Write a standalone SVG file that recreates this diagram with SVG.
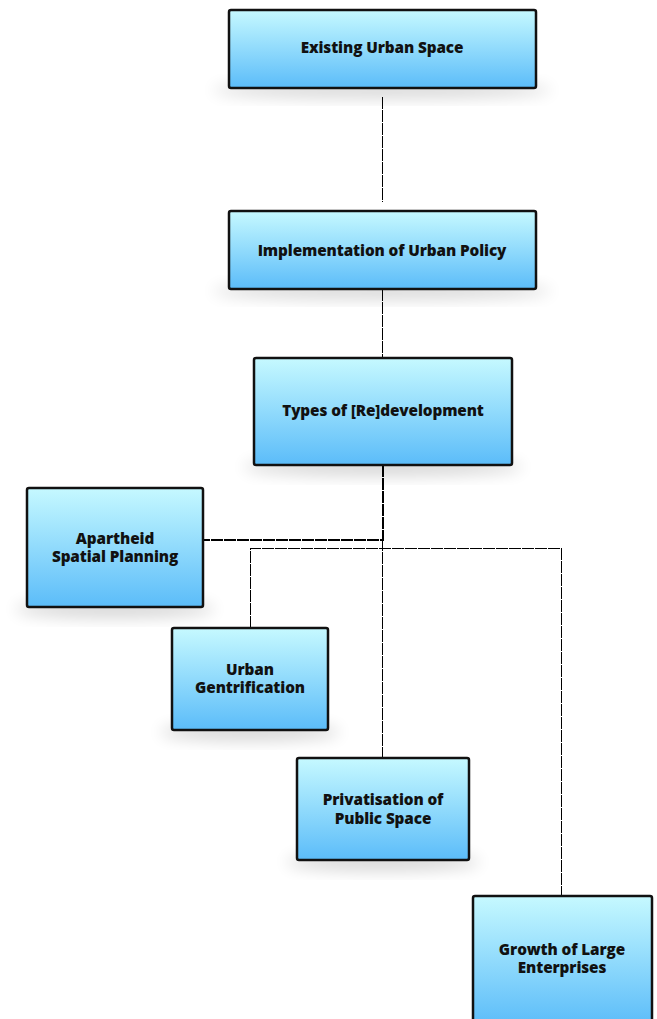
<svg xmlns="http://www.w3.org/2000/svg" width="657" height="1019" viewBox="0 0 657 1019">
<style>
.box{fill:url(#g);stroke:#111;stroke-width:2.5;stroke-linejoin:round}
.t{font-family:"Open Sans","Liberation Sans",sans-serif;font-weight:800;font-size:15.3px;fill:#111;text-anchor:middle;letter-spacing:-0.1px}
.c{fill:none;stroke:#000;stroke-width:1;stroke-dasharray:12 1;shape-rendering:crispEdges}
.sh{fill:#000;opacity:0.16;filter:url(#blur)}
</style>
<defs>
<linearGradient id="g" x1="0" y1="0" x2="0" y2="1">
<stop offset="0" stop-color="#c6f9ff"/>
<stop offset="1" stop-color="#5bbcf9"/>
</linearGradient>
<filter id="blur" x="-20%" y="-50%" width="140%" height="200%"><feGaussianBlur stdDeviation="8"/></filter>
</defs>
<g id="connectors">
<path class="c" d="M382.5 97 V202"/>
<path class="c" d="M382.5 289 V358"/>
<path class="c" d="M382.5 465 V539.5 H203" style="stroke-width:2"/>
<path class="c" d="M250.5 628 V548.5 H561.5 V896"/>
<path class="c" d="M382.5 539 V758"/>
</g>
<g id="n1">
<ellipse class="sh" cx="382" cy="90" rx="170" ry="8"/>
<rect class="box" x="229" y="10" width="307" height="78" rx="2"/>
<text class="t" x="382" y="53">Existing Urban Space</text>
</g>
<g id="n2">
<ellipse class="sh" cx="382" cy="291" rx="170" ry="8"/>
<rect class="box" x="229" y="211" width="307" height="78" rx="2"/>
<text class="t" x="382" y="256">Implementation of Urban Policy</text>
</g>
<g id="n3">
<ellipse class="sh" cx="383" cy="467" rx="140" ry="9"/>
<rect class="box" x="254" y="358" width="258" height="107" rx="2"/>
<text class="t" x="383" y="416">Types of [Re]development</text>
</g>
<g id="n4">
<ellipse class="sh" cx="115" cy="609" rx="100" ry="9"/>
<rect class="box" x="27" y="488" width="176" height="119" rx="2"/>
<text class="t" x="115" y="544">Apartheid</text>
<text class="t" x="115" y="562">Spatial Planning</text>
</g>
<g id="n5">
<ellipse class="sh" cx="250" cy="732" rx="90" ry="9"/>
<rect class="box" x="172" y="628" width="156" height="102" rx="2"/>
<text class="t" x="250" y="675">Urban</text>
<text class="t" x="250" y="693">Gentrification</text>
</g>
<g id="n6">
<ellipse class="sh" cx="383" cy="862" rx="97" ry="9"/>
<rect class="box" x="297" y="758" width="172" height="102" rx="2"/>
<text class="t" x="383" y="805">Privatisation of</text>
<text class="t" x="383" y="824">Public Space</text>
</g>
<g id="n7">
<rect class="box" x="473" y="896" width="179" height="130" rx="2"/>
<text class="t" x="562" y="955">Growth of Large</text>
<text class="t" x="562" y="973">Enterprises</text>
</g>
</svg>
